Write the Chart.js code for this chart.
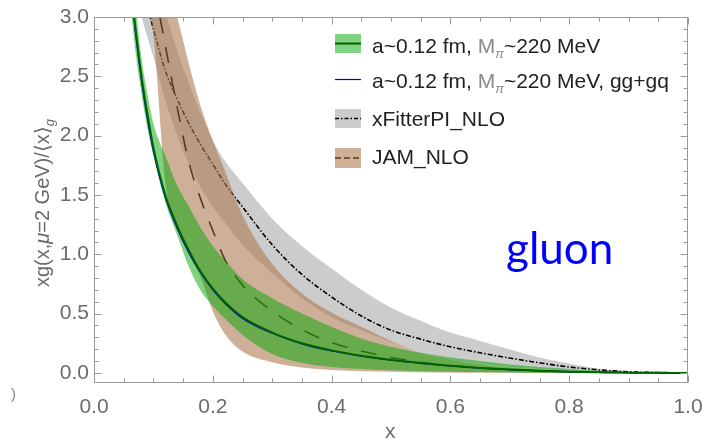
<!DOCTYPE html>
<html>
<head>
<meta charset="utf-8">
<script src="https://cdn.jsdelivr.net/npm/chart.js@4.4.0/dist/chart.umd.min.js"></script>
<style>
  html, body { margin: 0; padding: 0; background: #fff; }
  #wrap { position: relative; width: 703px; height: 439px; font-family: "Liberation Sans", Arial, sans-serif; }
  #chart { position: absolute; left: 0; top: 0; }
  .lab { position: absolute; white-space: nowrap; }
  #ytitle { left: 43px; top: 203px; font-size: 20px; color: #6b6b6b; transform: translate(-50%, -50%) rotate(-90deg); }
  #ytitle sub { font-size: 13px; }
  #xtitle { left: 385px; top: 420px; font-size: 21px; line-height: 21px; color: #6b6b6b; }
  #gluon { left: 506px; top: 225px; font-family: Lato, "Open Sans", sans-serif; font-size: 44px; line-height: 44px; color: #0000ff; }
  #stray { left: 11px; top: 386px; font-size: 15px; line-height: 15px; color: #888; }
  .leg { position: absolute; left: 372px; font-size: 21px; line-height: 21px; color: #222; white-space: nowrap; }
  .leg .m { color: #8a8a8a; }
  .leg sub { font-size: 13px; font-style: italic; }
  .sw { position: absolute; left: 335px; width: 26px; }
</style>
</head>
<body>
<div id="wrap">
  <canvas id="chart" width="703" height="439"></canvas>
  <div class="lab" id="ytitle">xg(x,<i>μ</i>=2 GeV)/⟨x⟩<sub><i>g</i></sub></div>
  <div class="lab" id="xtitle">x</div>
  <div class="lab" id="gluon">gluon</div>
  <div class="lab" id="stray">)</div>

  <svg class="sw" style="top:34px;height:19px" width="26" height="19">
    <rect x="0" y="0" width="26" height="19" fill="rgba(0,165,0,0.5)"/>
    <line x1="0" y1="9.5" x2="26" y2="9.5" stroke="#006400" stroke-width="2"/>
  </svg>
  <div class="leg" style="top:35px">a~0.12 fm, <span class="m">M<sub>π</sub></span>~220 MeV</div>

  <svg class="sw" style="top:70px;height:19px" width="26" height="19">
    <line x1="0" y1="9.5" x2="26" y2="9.5" stroke="#0000cc" stroke-width="1.2"/>
  </svg>
  <div class="leg" style="top:70px">a~0.12 fm, <span class="m">M<sub>π</sub></span>~220 MeV, gg+gq</div>

  <svg class="sw" style="top:109px;height:19px" width="26" height="19">
    <rect x="0" y="0" width="26" height="19" fill="rgba(128,128,128,0.4)"/>
    <line x1="0" y1="9.5" x2="26" y2="9.5" stroke="#000" stroke-width="1.3" stroke-dasharray="4 2 1.5 2"/>
  </svg>
  <div class="leg" style="top:108px">xFitterPI_NLO</div>

  <svg class="sw" style="top:148px;height:20px" width="26" height="20">
    <rect x="0" y="0" width="26" height="20" fill="rgba(173,124,83,0.6)"/>
    <line x1="0" y1="10" x2="26" y2="10" stroke="#5a3a1e" stroke-width="1.3" stroke-dasharray="6 3"/>
  </svg>
  <div class="leg" style="top:146px">JAM_NLO</div>
</div>

<script>
// x grid shared by all curves
const xGrid = [0.06, 0.07, 0.08, 0.09, 0.10, 0.12, 0.14, 0.16, 0.18, 0.20, 0.22, 0.25, 0.30, 0.35,
  0.40, 0.45, 0.50, 0.55, 0.60, 0.65, 0.70, 0.75, 0.80, 0.85, 0.90, 0.95, 1.00];

// lattice a~0.12 fm, M_pi~220 MeV (band + central)
const latticeLow = [3.15, 2.70, 2.35, 2.06, 1.83, 1.44, 1.16, 0.89, 0.69, 0.565, 0.46, 0.32, 0.16, 0.085,
  0.05, 0.033, 0.022, 0.015, 0.010, 0.007, 0.004, 0.002, 0.001, 0.0005, 0, 0, 0];
const latticeMid = [3.35, 2.90, 2.50, 2.18, 1.90, 1.50, 1.24, 1.03, 0.85, 0.71, 0.60, 0.47, 0.34, 0.25,
  0.19, 0.145, 0.11, 0.083, 0.06, 0.042, 0.028, 0.018, 0.010, 0.005, 0.002, 0.0005, 0];
const latticeHigh = [3.60, 3.10, 2.65, 2.35, 2.10, 1.83, 1.58, 1.40, 1.22, 1.07, 0.95, 0.79, 0.63, 0.50,
  0.39, 0.29, 0.22, 0.17, 0.13, 0.10, 0.07, 0.05, 0.032, 0.018, 0.009, 0.003, 0];
// gg+gq
const latticeGgGq = [3.30, 2.86, 2.46, 2.14, 1.87, 1.48, 1.22, 1.01, 0.84, 0.70, 0.59, 0.46, 0.335, 0.245,
  0.185, 0.142, 0.108, 0.081, 0.059, 0.041, 0.027, 0.017, 0.010, 0.005, 0.002, 0.0005, 0];

// xFitterPI_NLO
const xfitterLow = [3.50, 3.22, 3.00, 2.83, 2.66, 2.30, 2.00, 1.76, 1.56, 1.40, 1.27, 1.08, 0.84, 0.63,
  0.47, 0.36, 0.26, 0.17, 0.11, 0.075, 0.05, 0.032, 0.018, 0.009, 0.003, 0.001, 0];
const xfitterMid = [4.10, 3.75, 3.40, 3.10, 2.90, 2.55, 2.31, 2.10, 1.92, 1.76, 1.60, 1.40, 1.08, 0.83,
  0.64, 0.48, 0.36, 0.285, 0.22, 0.17, 0.125, 0.085, 0.05, 0.026, 0.010, 0.003, 0];
const xfitterHigh = [4.60, 4.30, 4.00, 3.70, 3.45, 3.05, 2.72, 2.44, 2.18, 1.96, 1.79, 1.60, 1.30, 1.07,
  0.88, 0.70, 0.55, 0.44, 0.34, 0.27, 0.20, 0.13, 0.08, 0.035, 0.012, 0.003, 0];

// JAM_NLO
const jamLow = [4.30, 3.80, 3.40, 3.10, 2.85, 1.61, 1.22, 1.00, 0.80, 0.52, 0.33, 0.18, 0.09, 0.045,
  0.025, 0.015, 0.010, 0.006, 0.004, 0.002, 0.001, 0, 0, 0, 0, 0, 0];
const jamMid = [5.00, 4.50, 4.00, 3.60, 3.30, 2.76, 2.24, 1.77, 1.46, 1.20, 0.96, 0.74, 0.52, 0.365,
  0.255, 0.185, 0.13, 0.09, 0.062, 0.042, 0.028, 0.018, 0.010, 0.005, 0.002, 0.0005, 0];
const jamHigh = [5.50, 5.00, 4.50, 4.10, 3.70, 3.30, 3.00, 2.60, 2.24, 1.96, 1.71, 1.33, 0.92, 0.67,
  0.51, 0.39, 0.27, 0.17, 0.11, 0.07, 0.045, 0.028, 0.016, 0.008, 0.003, 0.001, 0];

const xTickValues = [0, 0.2, 0.4, 0.6, 0.8, 1.0];
const yTickValues = [0, 0.5, 1.0, 1.5, 2.0, 2.5, 3.0];

const pts = arr => xGrid.map((x, i) => ({ x: x, y: arr[i] }));

function edge(arr, order) {
  return { data: pts(arr), borderColor: "transparent", borderWidth: 0, pointRadius: 0, fill: false, order: order };
}
function band(arr, color, order) {
  return { data: pts(arr), borderColor: "transparent", borderWidth: 0, pointRadius: 0, fill: "-1", backgroundColor: color, order: order };
}
function curve(arr, color, width, dash, order) {
  return { data: pts(arr), borderColor: color, borderWidth: width, borderDash: dash, pointRadius: 0, fill: false, order: order };
}

// frame with inward ticks, Mathematica style
const frameTicks = {
  id: "frameTicks",
  afterDraw(chart) {
    const ctx = chart.ctx;
    const a = chart.chartArea;
    const xs = chart.scales.x, ys = chart.scales.y;
    const L = Math.round(a.left) + 0.5, R = Math.round(a.right) - 0.5;
    const T = Math.round(a.top) + 0.5, B = Math.round(a.bottom) - 0.5;
    ctx.save();
    ctx.strokeStyle = "#9a9a9a";
    ctx.lineWidth = 1;
    ctx.strokeRect(L, T, R - L, B - T);
    ctx.beginPath();
    for (let i = 0; i <= 20; i++) {
      const v = i * 0.05;
      const len = (i % 4 === 0) ? 7 : 4;
      const px = Math.round(xs.getPixelForValue(v)) + 0.5;
      ctx.moveTo(px, B); ctx.lineTo(px, B - len);
      ctx.moveTo(px, T); ctx.lineTo(px, T + len);
    }
    for (let i = 0; i <= 30; i++) {
      const v = i * 0.1;
      const len = (i % 5 === 0) ? 7 : 4;
      const py = Math.round(ys.getPixelForValue(v)) + 0.5;
      ctx.moveTo(L, py); ctx.lineTo(L + len, py);
      ctx.moveTo(R, py); ctx.lineTo(R - len, py);
    }
    ctx.stroke();
    ctx.restore();
  }
};

const tickFont = { family: "'Liberation Sans', Arial, sans-serif", size: 21 };

new Chart(document.getElementById("chart"), {
  type: "line",
  data: {
    datasets: [
      edge(xfitterLow, 12),
      band(xfitterHigh, "rgba(128,128,128,0.4)", 11),
      curve(xfitterMid, "#000000", 1.6, [5, 2, 1.5, 2], 10),
      edge(jamLow, 9),
      band(jamHigh, "rgba(173,124,83,0.6)", 8),
      curve(jamMid, "#5a3a1e", 1.6, [16, 14], 7),
      edge(latticeLow, 6),
      band(latticeHigh, "rgba(0,165,0,0.5)", 5),
      curve(latticeGgGq, "#0000cc", 1.3, [], 4),
      curve(latticeMid, "#006400", 2, [], 3)
    ]
  },
  options: {
    responsive: false,
    animation: false,
    events: [],
    layout: { padding: { left: 0, right: 15, top: 17, bottom: 0 } },
    elements: { line: { cubicInterpolationMode: "monotone" } },
    plugins: { legend: { display: false }, tooltip: { enabled: false } },
    scales: {
      x: {
        type: "linear",
        min: 0,
        max: 1,
        grid: { display: false, drawTicks: false },
        border: { display: false },
        afterBuildTicks: s => { s.ticks = xTickValues.map(v => ({ value: v })); },
        afterFit: s => { s.height = 56; s.paddingLeft = 0; s.paddingRight = 0; },
        ticks: { color: "#6b6b6b", font: tickFont, padding: 12, maxRotation: 0, callback: v => v.toFixed(1) }
      },
      y: {
        type: "linear",
        min: -0.085,
        max: 3,
        grid: { display: false, drawTicks: false },
        border: { display: false },
        afterBuildTicks: s => { s.ticks = yTickValues.map(v => ({ value: v })); },
        afterFit: s => { s.width = 94; s.paddingTop = 0; s.paddingBottom = 0; },
        ticks: { color: "#6b6b6b", font: tickFont, padding: 5, callback: v => v.toFixed(1) }
      }
    }
  },
  plugins: [frameTicks]
});
</script>
</body>
</html>
